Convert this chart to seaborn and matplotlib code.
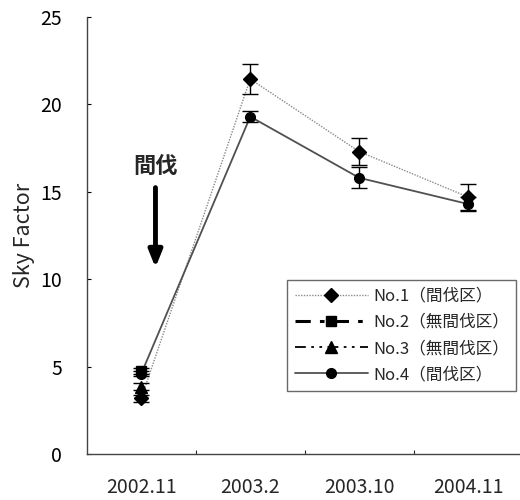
import numpy as np
import pandas as pd
import seaborn as sns
import matplotlib
matplotlib.use("Agg")
import matplotlib.pyplot as plt
from matplotlib.lines import Line2D

dates = ["2002.11", "2003.2", "2003.10", "2004.11"]
series_names = ["No.1（間伐区）", "No.2（無間伐区）", "No.3（無間伐区）", "No.4（間伐区）"]
no1 = [3.2, 21.45, 17.3, 14.7]
no1_err = [0.2, 0.85, 0.75, 0.75]
no2 = [4.75]
no2_err = [0.15]
no3 = [3.85]
no3_err = [0.2]
no4 = [4.6, 19.3, 15.8, 14.3]
no4_err = [0.15, 0.3, 0.6, 0.4]

sns.set_style("white")
plt.rcParams['font.family'] = ['Noto Sans CJK JP', 'DejaVu Sans']

fig = plt.figure(figsize=(5.2, 5.0), dpi=100)
ax = fig.add_axes([0.167, 0.092, 0.838, 0.874])

rows = []
for name, vals in zip(series_names, [no1, no2, no3, no4]):
    for i, v in enumerate(vals):
        rows.append({"series": name, "x": i, "y": v})
df = pd.DataFrame(rows)

styles = {
    series_names[0]: dict(color="#8a8a8a", ls=(0, (1, 1)), lw=1.0, marker="D", ms=7),
    series_names[1]: dict(color="black", ls=(0, (5, 3, 1.5, 3)), lw=2.2, marker="s", ms=7),
    series_names[2]: dict(color="black", ls=(0, (6, 3, 1.5, 3, 1.5, 3)), lw=1.3, marker="^", ms=8),
    series_names[3]: dict(color="#505050", ls="-", lw=1.3, marker="o", ms=7),
}
errs = {series_names[0]: no1_err, series_names[1]: no2_err,
        series_names[2]: no3_err, series_names[3]: no4_err}

for name in [series_names[0], series_names[3], series_names[1], series_names[2]]:
    st = styles[name]
    sub = df[df.series == name]
    sns.lineplot(data=sub, x="x", y="y", ax=ax, color=st["color"], linestyle=st["ls"],
                 linewidth=st["lw"], legend=False, zorder=2)
    ax.errorbar(sub["x"], sub["y"], yerr=errs[name], fmt="none", ecolor="black",
                elinewidth=1.0, capsize=6, capthick=1.0, zorder=3)
    ax.plot(sub["x"], sub["y"], linestyle="none", marker=st["marker"], ms=st["ms"],
            color="black", zorder=4)

ax.set_xlim(-0.5, 3.5)
ax.set_ylim(0, 25)
ax.set_yticks([0, 5, 10, 15, 20, 25])
ax.set_xticks([0.5, 1.5, 2.5])
ax.set_xticklabels([])
for i, d in enumerate(dates):
    ax.text(i, -1.3, d, ha="center", va="top", fontsize=14)
ax.tick_params(axis="y", direction="in", length=3, labelsize=14, pad=18, left=True, colors="black")
ax.tick_params(axis="x", direction="in", length=3, bottom=True)
ax.set_ylabel("Sky Factor", fontsize=15.5, labelpad=4)
ax.set_xlabel("")
for s in ["top", "right"]:
    ax.spines[s].set_visible(False)
for s in ["left", "bottom"]:
    ax.spines[s].set_color("#444444")
    ax.spines[s].set_linewidth(1.0)

ax.annotate("", xy=(0.13, 10.5), xytext=(0.13, 15.4),
            arrowprops=dict(arrowstyle="-|>,head_length=1.0,head_width=0.4", color="black", lw=3.5))
ax.text(0.13, 16.4, "間伐", ha="center", va="center", fontsize=16, fontweight="bold")

handles = []
for name in series_names:
    st = styles[name]
    handles.append(Line2D([], [], color=st["color"], linestyle=st["ls"], linewidth=st["lw"],
                          marker=st["marker"], ms=st["ms"], mfc="black", mec="black"))
leg = ax.legend(handles, series_names, loc="upper right", bbox_to_anchor=(0.986, 0.398),
                fontsize=12, frameon=True, fancybox=False, edgecolor="#444444",
                handlelength=4.4, borderpad=0.45, labelspacing=0.55, handletextpad=0.3,
                borderaxespad=0)
leg.get_frame().set_linewidth(1.0)

fig.savefig("out.png", dpi=100)
